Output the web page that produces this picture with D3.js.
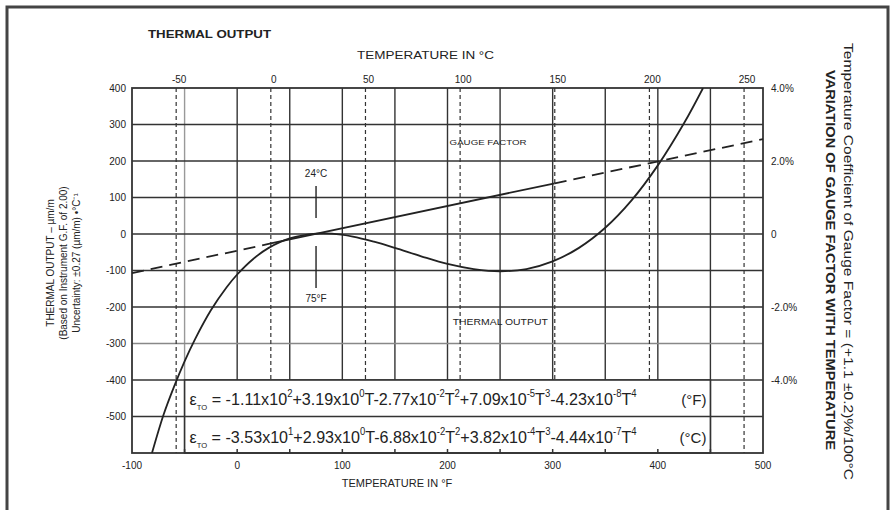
<!DOCTYPE html>
<html lang="en">
<head>
  <meta charset="utf-8">
<style>
body { margin: 0; background: #fff; }
svg text { font-family: "Liberation Sans Narrow", "Arial Narrow", "Liberation Sans", sans-serif; fill: #222; }
.grid line { stroke: #333; stroke-width: 1.4; }
.grid .dash { stroke-dasharray: 4,3; stroke-width: 1.2; }
</style>
</head>
<body>
<svg width="891" height="510"></svg>
<script src="https://d3js.org/d3.v7.min.js"></script>
<script>
// data
var fTicks = [-100, 0, 100, 200, 300, 400, 500];
var cTicks = [-50, 0, 50, 100, 150, 200, 250];
var yTicks = [400, 300, 200, 100, 0, -100, -200, -300, -400, -500];
var pctTicks = [4, 2, 0, -2, -4];
var pctLabels = ["4.0%", "2.0%", "0", "-2.0%", "-4.0%"];

// thermal output (deg F, um/m)
var toTemp = [-81, -70, -60, -50, -40, -25, -10, 0, 15, 30, 50, 75, 90, 110, 130, 150, 175, 200, 225, 250, 275, 300, 325, 350, 375, 400, 425, 443];
var toVal  = [-600, -495, -418, -349, -288, -209, -146, -111, -69, -38, -12, 1, 1, -7, -21, -38, -61, -82, -96, -102, -96, -75, -38, 17, 92, 188, 304, 400];

// gauge factor variation (deg C, %)
var gfTemp = [-73.3, 0, 150, 260];
var gfVal  = [-1.07, -0.26, 1.39, 2.6];

var svg = d3.select("svg");

var x = d3.scaleLinear().domain([-100, 500]).range([132, 763]);
var xc = d3.scaleLinear().domain([(-100 - 32) * 5 / 9, (500 - 32) * 5 / 9]).range([132, 763]);
var y = d3.scaleLinear().domain([-600, 400]).range([453, 88]);
var yp = d3.scaleLinear().domain([-6, 4]).range([453, 88]);

// outer frame
svg.append("path")
    .attr("d", "M7,512V7H888V512")
    .attr("fill", "none")
    .attr("stroke", "#444")
    .attr("stroke-width", 3);

// grid
var grid = svg.append("g").attr("class", "grid");
grid.selectAll(".vf")
    .data(d3.range(-50, 500, 50))
  .enter().append("line")
    .attr("x1", function(d) { return x(d); })
    .attr("x2", function(d) { return x(d); })
    .attr("y1", y(400)).attr("y2", y(-600))
    .style("stroke", function(d) { return d == -50 ? "#999" : null; });
grid.selectAll(".hz")
    .data(d3.range(-500, 400, 100))
  .enter().append("line")
    .attr("x1", x(-100)).attr("x2", x(500))
    .attr("y1", function(d) { return y(d); })
    .attr("y2", function(d) { return y(d); })
    .style("stroke", function(d) { return d == -300 ? "#888" : null; });
grid.selectAll(".vc")
    .data(cTicks)
  .enter().append("line")
    .attr("class", "dash")
    .attr("x1", function(d) { return xc(d); })
    .attr("x2", function(d) { return xc(d); })
    .attr("y1", y(400)).attr("y2", y(-600));

// equation box
var box = svg.append("g");
box.append("rect")
    .attr("x", x(-50)).attr("y", y(-400))
    .attr("width", x(450) - x(-50)).attr("height", y(-600) - y(-400))
    .attr("fill", "#fff")
    .attr("stroke", "#333").attr("stroke-width", 1.6);
box.append("line")
    .attr("x1", x(-50)).attr("x2", x(450))
    .attr("y1", y(-500)).attr("y2", y(-500))
    .attr("stroke", "#333").attr("stroke-width", 1.6);

function equation(yy, parts, unit) {
  var t = box.append("text").attr("x", x(-50) + 5).attr("y", yy).attr("font-size", 17)
      .attr("textLength", 447).attr("lengthAdjust", "spacingAndGlyphs");
  t.append("tspan").text("\u03b5");
  t.append("tspan").attr("font-size", 8).attr("dy", 5).text("TO");
  t.append("tspan").attr("dy", -5).text(" = ");
  parts.forEach(function(p) {
    if (p.sup) t.append("tspan").attr("font-size", 10).attr("dy", -8).text(p.sup);
    else t.append("tspan").attr("dy", p.back ? 8 : 0).text(p.txt);
  });
  box.append("text").attr("x", x(450) - 4).attr("y", yy).attr("font-size", 15)
      .attr("text-anchor", "end").text(unit);
}
equation(y(-400) + 25, [
  {txt: "-1.11x10"}, {sup: "2"}, {txt: "+3.19x10", back: 1}, {sup: "0"},
  {txt: "T-2.77x10", back: 1}, {sup: "-2"}, {txt: "T", back: 1}, {sup: "2"},
  {txt: "+7.09x10", back: 1}, {sup: "-5"}, {txt: "T", back: 1}, {sup: "3"},
  {txt: "-4.23x10", back: 1}, {sup: "-8"}, {txt: "T", back: 1}, {sup: "4"}
], "(\u00b0F)");
equation(y(-500) + 26, [
  {txt: "-3.53x10"}, {sup: "1"}, {txt: "+2.93x10", back: 1}, {sup: "0"},
  {txt: "T-6.88x10", back: 1}, {sup: "-2"}, {txt: "T", back: 1}, {sup: "2"},
  {txt: "+3.82x10", back: 1}, {sup: "-4"}, {txt: "T", back: 1}, {sup: "3"},
  {txt: "-4.44x10", back: 1}, {sup: "-7"}, {txt: "T", back: 1}, {sup: "4"}
], "(\u00b0C)");

// plot border
svg.append("rect")
    .attr("x", x(-100)).attr("y", y(400))
    .attr("width", x(500) - x(-100)).attr("height", y(-600) - y(400))
    .attr("fill", "none").attr("stroke", "#333").attr("stroke-width", 1.8);

svg.append("clipPath").attr("id", "clip")
  .append("rect")
    .attr("x", x(-100)).attr("y", y(400))
    .attr("width", x(500) - x(-100)).attr("height", y(-600) - y(400));

// thermal output curve
var toData = toTemp.map(function(t, i) { return [t, toVal[i]]; });
svg.append("path")
    .datum(toData)
    .attr("clip-path", "url(#clip)")
    .attr("fill", "none")
    .attr("stroke", "#222")
    .attr("stroke-width", 1.8)
    .attr("d", d3.line()
        .x(function(d) { return x(d[0]); })
        .y(function(d) { return y(d[1]); })
        .curve(d3.curveCatmullRom));

// gauge factor line: dashed outside 0..150 C, solid inside
var gfData = gfTemp.map(function(t, i) { return [t, gfVal[i]]; });
var gfLine = d3.line()
    .x(function(d) { return xc(d[0]); })
    .y(function(d) { return yp(d[1]); });
[[0, 1, true], [1, 2, false], [2, 3, true]].forEach(function(s) {
  svg.append("path")
      .datum(gfData.slice(s[0], s[1] + 1))
      .attr("fill", "none")
      .attr("stroke", "#222")
      .attr("stroke-width", 1.8)
      .attr("stroke-dasharray", s[2] ? "12,7" : null)
      .attr("d", gfLine);
});

// axes labels
var lab = svg.append("g").attr("font-size", 10);
lab.selectAll(".yl")
    .data(yTicks)
  .enter().append("text")
    .attr("x", x(-100) - 6)
    .attr("y", function(d) { return y(d); })
    .attr("dy", "0.35em")
    .attr("text-anchor", "end")
    .text(function(d) { return d; });
lab.selectAll(".pl")
    .data(pctTicks)
  .enter().append("text")
    .attr("x", x(500) + 8)
    .attr("y", function(d) { return yp(d); })
    .attr("dy", "0.35em")
    .text(function(d, i) { return pctLabels[i]; });
lab.selectAll(".fl")
    .data(fTicks)
  .enter().append("text")
    .attr("x", function(d) { return x(d); })
    .attr("y", y(-600) + 16)
    .attr("text-anchor", "middle")
    .text(function(d) { return d; });
lab.selectAll(".cl")
    .data(cTicks)
  .enter().append("text")
    .attr("x", function(d) { return xc(d) + 3; })
    .attr("y", y(400) - 5)
    .attr("text-anchor", "middle")
    .text(function(d) { return d; });

// bottom ticks
svg.append("g").selectAll("line")
    .data(d3.range(-50, 500, 50))
  .enter().append("line")
    .attr("x1", function(d) { return x(d); })
    .attr("x2", function(d) { return x(d); })
    .attr("y1", y(-600)).attr("y2", y(-600) - 4)
    .attr("stroke", "#333").attr("stroke-width", 1.5);

// titles
svg.append("text").attr("x", 148).attr("y", 38)
    .attr("font-size", 10).attr("font-weight", "bold")
    .attr("textLength", 123).attr("lengthAdjust", "spacingAndGlyphs")
    .text("THERMAL OUTPUT");
svg.append("text").attr("x", 357).attr("y", 59)
    .attr("font-size", 11).attr("textLength", 137).attr("lengthAdjust", "spacingAndGlyphs")
    .text("TEMPERATURE IN \u00b0C");
svg.append("text").attr("x", 397).attr("y", 487).attr("text-anchor", "middle")
    .attr("font-size", 11).text("TEMPERATURE IN \u00b0F");

var lt = svg.append("g").attr("font-size", 10).attr("text-anchor", "middle");
[["THERMAL OUTPUT \u2013 \u00b5m/m", 54],
 ["(Based on Instrument G.F. of 2.00)", 67],
 ["Uncertainty: \u00b10.27 (\u00b5m/m) \u2022\u00b0C\u207b\u00b9", 80]].forEach(function(r) {
  lt.append("text")
      .attr("transform", "translate(" + r[1] + ",263) rotate(-90)")
      .text(r[0]);
});

svg.append("text")
    .attr("transform", "translate(844,43) rotate(90)")
    .attr("font-size", 12)
    .attr("textLength", 437).attr("lengthAdjust", "spacingAndGlyphs")
    .text("Temperature Coefficient of Gauge Factor = (+1.1 \u00b10.2)%/100\u00b0C");
svg.append("text")
    .attr("transform", "translate(826,70) rotate(90)")
    .attr("font-size", 12).attr("font-weight", "bold")
    .attr("textLength", 380).attr("lengthAdjust", "spacingAndGlyphs")
    .text("VARIATION OF GAUGE FACTOR WITH TEMPERATURE");

// annotations
var ann = svg.append("g");
ann.append("text").attr("x", x(202)).attr("y", 145).attr("font-size", 8)
    .attr("textLength", 77).attr("lengthAdjust", "spacingAndGlyphs").text("GAUGE FACTOR");
ann.append("text").attr("x", x(205)).attr("y", 325).attr("font-size", 9)
    .attr("textLength", 95).attr("lengthAdjust", "spacingAndGlyphs").text("THERMAL OUTPUT");
ann.append("text").attr("x", x(75)).attr("y", 177).attr("text-anchor", "middle").attr("font-size", 10).text("24\u00b0C");
ann.append("text").attr("x", x(75)).attr("y", 302).attr("text-anchor", "middle").attr("font-size", 10).text("75\u00b0F");
ann.append("line").attr("x1", x(75)).attr("x2", x(75)).attr("y1", 186).attr("y2", 218)
    .attr("stroke", "#222").attr("stroke-width", 1.4);
ann.append("line").attr("x1", x(75)).attr("x2", x(75)).attr("y1", 246).attr("y2", 288)
    .attr("stroke", "#222").attr("stroke-width", 1.4);
</script>
</body>
</html>
